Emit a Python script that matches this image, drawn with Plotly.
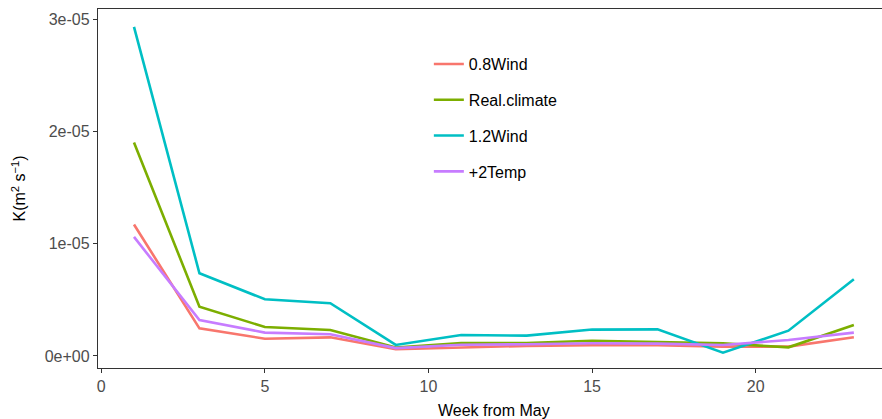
import plotly.graph_objects as go

weeks = [1, 3, 5, 7, 9, 11, 13, 15, 17, 19, 21, 23]
series_names = ["0.8Wind", "Real.climate", "1.2Wind", "+2Temp"]
wind08 = [11.7e-06, 2.46e-06, 1.54e-06, 1.66e-06, 0.60e-06, 0.77e-06, 0.90e-06, 0.95e-06, 0.95e-06, 0.83e-06, 0.83e-06, 1.66e-06]
real_climate = [19.0e-06, 4.39e-06, 2.58e-06, 2.32e-06, 0.75e-06, 1.16e-06, 1.15e-06, 1.36e-06, 1.25e-06, 1.13e-06, 0.77e-06, 2.76e-06]
wind12 = [29.3e-06, 7.36e-06, 5.05e-06, 4.70e-06, 0.98e-06, 1.87e-06, 1.81e-06, 2.35e-06, 2.37e-06, 0.30e-06, 2.25e-06, 6.83e-06]
temp2 = [10.6e-06, 3.20e-06, 2.08e-06, 1.93e-06, 0.70e-06, 1.00e-06, 1.05e-06, 1.13e-06, 1.10e-06, 0.98e-06, 1.42e-06, 2.08e-06]
colors = ["#F8766D", "#7CAE00", "#00BFC4", "#C77CFF"]

x_tickvals = [0, 5, 10, 15, 20]
y_tickvals = [0, 1e-05, 2e-05, 3e-05]
y_ticktext = ["0e+00", "1e-05", "2e-05", "3e-05"]
x_title = "Week from May"
y_title = "K(m<sup>2</sup> s<sup>−1</sup>)"

fig = go.Figure()
for name, vals, col in zip(series_names, [wind08, real_climate, wind12, temp2], colors):
    fig.add_trace(go.Scatter(x=weeks, y=vals, mode="lines", name=name,
                             legendgroup=name,
                             line=dict(color=col, width=2.6)))

FONT = "Liberation Sans, Arial, sans-serif"
fig.update_layout(
    width=882, height=419,
    margin=dict(l=98, r=0, t=9, b=51),
    paper_bgcolor="white", plot_bgcolor="white",
    font=dict(family=FONT, size=16, color="black"),
    showlegend=True,
    legend=dict(x=0.422, y=0.894, xanchor="left", yanchor="top",
                bgcolor="rgba(0,0,0,0)", font=dict(size=16, color="black"),
                tracegroupgap=12, itemwidth=30),
    xaxis=dict(range=[-0.1, 23.86], tickvals=x_tickvals, showgrid=False,
               zeroline=False, showline=True, linecolor="#333333", linewidth=1.4,
               mirror=True, ticks="outside", ticklen=4, tickcolor="#333333",
               tickfont=dict(size=16, color="#4D4D4D"), automargin=False),
    yaxis=dict(range=[-1.07e-06, 3.089e-05], tickvals=y_tickvals, ticktext=y_ticktext,
               showgrid=False, zeroline=False, showline=True, linecolor="#333333",
               linewidth=1.4, mirror=False, ticks="outside", ticklen=4, tickcolor="#333333",
               tickfont=dict(size=16, color="#4D4D4D"), automargin=False),
    annotations=[
        dict(text=x_title, xref="paper", yref="paper", x=(494 - 98) / (882 - 98), y=-0.09,
             xanchor="center", yanchor="top", showarrow=False,
             font=dict(size=16, color="black")),
        dict(text=y_title, xref="paper", yref="paper", x=-0.102, y=0.5,
             xanchor="center", yanchor="middle", showarrow=False, textangle=-90,
             font=dict(size=16, color="black")),
    ],
)

fig.write_html("out.html", config={"displayModeBar": False},
               post_script="document.body.style.margin='0';")
